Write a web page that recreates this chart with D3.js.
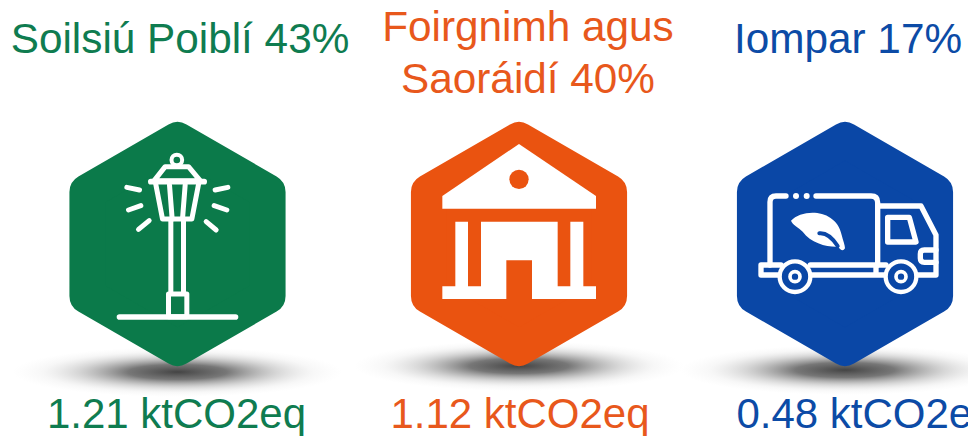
<!DOCTYPE html>
<meta charset="utf-8">
<script src="https://d3js.org/d3.v7.min.js"></script>
<html>
<head>
<style>
  body { margin: 0; background: #fff; overflow: hidden; }
  text { font-family: "Liberation Sans", Arial, sans-serif; }
</style>
</head>
<body>
<div id="viz"></div>
<script>
const sectors = ["Soilsiú Poiblí", "Foirgnimh agus Saoráidí", "Iompar"];
const shares = [43, 40, 17];
const emissions = [1.21, 1.12, 0.48];
const colours = ["#0b7a4a", "#ea5310", "#0a47a6"];
const textColours = ["#0f7c50", "#e8581c", "#0c4ba6"];

const width = 968, height = 436;

const svg = d3.select("#viz").append("svg")
  .attr("width", width)
  .attr("height", height);

// the three columns are not quite evenly spaced in the original
const hexX = d3.scaleOrdinal().domain(sectors).range([177.5, 519, 845]);
const titleX = d3.scaleOrdinal().domain(sectors).range([180, 528, 848]);
const valueX = d3.scaleOrdinal().domain(sectors).range([176.5, 520, 866]);
const shadowY = d3.scaleOrdinal().domain(sectors).range([372, 366, 370]);
const hexY = 244;

const defs = svg.append("defs");
const shadow = defs.append("radialGradient").attr("id", "shadow");
shadow.append("stop").attr("offset", "0%").attr("stop-color", "#3a3a3a").attr("stop-opacity", 0.95);
shadow.append("stop").attr("offset", "30%").attr("stop-color", "#555").attr("stop-opacity", 0.8);
shadow.append("stop").attr("offset", "60%").attr("stop-color", "#999").attr("stop-opacity", 0.4);
shadow.append("stop").attr("offset", "82%").attr("stop-color", "#ccc").attr("stop-opacity", 0.15);
shadow.append("stop").attr("offset", "100%").attr("stop-color", "#ddd").attr("stop-opacity", 0);

const hexPoints = d3.range(6).map(i => {
  const a = Math.PI / 3 * i;
  return [104 * Math.sin(a), -104 * Math.cos(a)].join(",");
}).join(" ");

const groups = svg.selectAll("g.sector")
  .data(sectors)
  .join("g")
  .attr("class", "sector");

groups.append("ellipse")
  .attr("cx", d => hexX(d))
  .attr("cy", d => shadowY(d))
  .attr("rx", 165)
  .attr("ry", 25)
  .attr("fill", "url(#shadow)");

groups.append("polygon")
  .attr("transform", d => `translate(${hexX(d)},${hexY})`)
  .attr("points", hexPoints)
  .attr("fill", (d, i) => colours[i])
  .attr("stroke", (d, i) => colours[i])
  .attr("stroke-width", 36)
  .attr("stroke-linejoin", "round");

// titles
const titleLines = [[`${sectors[0]} ${shares[0]}%`], ["Foirgnimh agus", `Saoráidí ${shares[1]}%`], [`${sectors[2]} ${shares[2]}%`]];
const titleBase = [53, 41, 53];
groups.each(function (d, i) {
  d3.select(this).selectAll("text.title")
    .data(titleLines[i])
    .join("text")
    .attr("class", "title")
    .attr("x", titleX(d))
    .attr("y", (t, j) => titleBase[i] + j * 52)
    .attr("text-anchor", "middle")
    .attr("font-size", 42.3)
    .attr("fill", textColours[i])
    .text(t => t);
});

groups.append("text")
  .attr("x", d => valueX(d))
  .attr("y", 428)
  .attr("text-anchor", "middle")
  .attr("font-size", 42)
  .attr("fill", (d, i) => textColours[i])
  .text((d, i) => `${emissions[i].toFixed(2)} ktCO2eq`);

// icons, drawn at 3x and scaled down
function iconGroup(i, originX) {
  return svg.append("g")
    .attr("transform", `translate(${hexX(sectors[i]) - originX / 3},110) scale(${1 / 3})`)
    .attr("fill", "none")
    .attr("stroke", "#fff")
    .attr("stroke-linecap", "round")
    .attr("stroke-linejoin", "round");
}

// street lamp
const lamp = iconGroup(0, 382).attr("stroke-width", 15);
lamp.append("circle").attr("cx", 380).attr("cy", 150).attr("r", 16).attr("stroke-width", 12);
lamp.append("path").attr("d", "M345,170H415L450,212H312Z");
lamp.append("path").attr("d", "M302,215H462").attr("stroke-width", 17);
lamp.append("path").attr("d", "M316,218L337,327H425L446,218");
lamp.append("path").attr("d", "M358,225L366,327M405,225L397,327");
lamp.append("path").attr("d", "M362,330V550M400,330V550");
lamp.append("path").attr("d", "M355,552H410V620H355Z");
lamp.append("path").attr("d", "M208,621H556").attr("stroke-width", 17);
lamp.append("path").attr("d", "M230,232L268,240M235,300L272,287M265,358L297,332M495,240L533,232M492,287L530,300M468,335L498,360");

// building
const building = iconGroup(1, 373);
building.append("path")
  .attr("d", "M373,102L604,258V296H143V258Z")
  .attr("fill", "#fff").attr("stroke", "none");
building.append("circle")
  .attr("cx", 373).attr("cy", 208).attr("r", 29)
  .attr("fill", colours[1]).attr("stroke", "none");
building.append("path")
  .attr("d", "M143,529H182V335H220V529H259V335H489V529H527V335H566V529H604V567H412V451H335V567H143Z")
  .attr("fill", "#fff").attr("stroke", "none");

// truck with leaf
const truck = iconGroup(2, 412).attr("stroke-width", 16);
truck.append("path").attr("d", "M235,258H205Q187,258 187,276V465");
truck.append("path").attr("d", "M325,258H490Q510,258 510,278V465");
truck.append("circle").attr("cx", 265).attr("cy", 258).attr("r", 9).attr("fill", "#fff").attr("stroke", "none");
truck.append("circle").attr("cx", 297).attr("cy", 258).attr("r", 9).attr("fill", "#fff").attr("stroke", "none");
truck.append("path").attr("d", "M220,465H160V495H215");
truck.append("path").attr("d", "M308,465H535M308,495H535M505,465V495");
truck.append("path").attr("d", "M515,288H640L685,375V495H630");
truck.append("path").attr("d", "M540,322H605L625,396H540Z");
truck.append("path").attr("d", "M685,420H650Q638,420 638,432V445Q638,457 650,457H685");
[262, 580].forEach(cx => {
  truck.append("circle").attr("cx", cx).attr("cy", 500).attr("r", 46).attr("stroke-width", 13).attr("fill", colours[2]);
  truck.append("circle").attr("cx", cx).attr("cy", 500).attr("r", 15).attr("stroke-width", 11);
});
truck.append("path")
  .attr("d", "M250,332C285,295 385,295 402,375C406,392 412,405 412,415C406,425 398,420 392,410C360,412 310,400 285,365C272,352 255,345 250,332Z")
  .attr("fill", "#fff").attr("stroke", "none");
truck.append("path")
  .attr("d", "M335,370C355,368 375,385 390,408")
  .attr("stroke", colours[2]).attr("stroke-width", 12);
</script>
</body>
</html>
